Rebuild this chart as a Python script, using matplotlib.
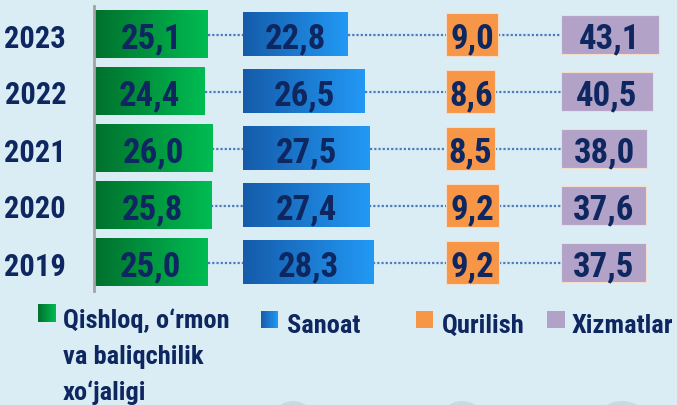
import matplotlib.pyplot as plt
import numpy as np
from matplotlib import font_manager
from matplotlib.colors import LinearSegmentedColormap
from matplotlib.lines import Line2D
from matplotlib.patches import Ellipse, Rectangle

years = ['2023', '2022', '2021', '2020', '2019']
agriculture = [25.1, 24.4, 26.0, 25.8, 25.0]
industry = [22.8, 26.5, 27.5, 27.4, 28.3]
construction = [9.0, 8.6, 8.5, 9.2, 9.2]
services = [43.1, 40.5, 38.0, 37.6, 37.5]
series_names = ['Qishloq, o‘rmon\nva baliqchilik\nxo‘jaligi', 'Sanoat',
                'Qurilish', 'Xizmatlar']

W, H = 677, 406
BG = '#DBEDF4'
NAVY = '#0E2760'

# pick a narrow bold face if one is there
installed = {f.name for f in font_manager.fontManager.ttflist}
font = 'DejaVu Sans'
for cand in ['Liberation Sans Narrow', 'Roboto Condensed', 'Noto Sans Condensed',
             'Open Sans Condensed', 'DejaVu Sans Condensed']:
    if cand in installed:
        font = cand
        break
plt.rcParams['font.family'] = [font, 'DejaVu Sans']
plt.rcParams['font.weight'] = 'bold'
plt.rcParams['font.stretch'] = 'condensed'

green = LinearSegmentedColormap.from_list('g', ['#00702D', '#00BC52'])
blue = LinearSegmentedColormap.from_list('b', ['#155BAA', '#2299F5'])
grad = np.linspace(0, 1, 256).reshape(1, -1)

fig = plt.figure(figsize=(W / 100, H / 100), dpi=100, facecolor=BG)

# overlay in pixel units for legend and decorations
bg = fig.add_axes([0, 0, 1, 1], zorder=0)
bg.set_xlim(0, W)
bg.set_ylim(H, 0)
bg.axis('off')


def px_axes(x0, x1, y0, y1):
    return fig.add_axes([x0 / W, 1 - y1 / H, (x1 - x0) / W, (y1 - y0) / H], zorder=2)


# column layout: left edge px, right edge px, px per unit
cols = [
    (94, 240, 4.54, agriculture, 0.83, green, None),
    (243, 440, 4.60, industry, 0.76, blue, None),
    (446, 555, 5.75, construction, 0.77, None, '#F79646'),
    (561, 677, 2.27, services, 0.69, None, '#B2A2C8'),
]
y = np.arange(len(years))
axes = []
for x0, x1, scale, vals, h, cmap, color in cols:
    ax = px_axes(x0, x1, 7, 292)
    ax.patch.set_visible(False)
    for yi, v in zip(y, vals):
        if cmap is not None:
            ax.imshow(grad, cmap=cmap, aspect='auto', extent=(0, v, yi + h / 2, yi - h / 2),
                      interpolation='bilinear', zorder=2)
        else:
            ax.barh(yi, v, height=h, color=color, edgecolor='#F3DCCB', linewidth=0.8, zorder=2)
        ax.text(v / 2, yi, f'{v:.1f}'.replace('.', ','), ha='center', va='center_baseline',
                fontsize=25, color=NAVY, zorder=3)
    ax.set_xlim(0, (x1 - x0) / scale)
    ax.set_ylim(len(years) - 0.5, -0.5)
    for s in ax.spines.values():
        s.set_visible(False)
    ax.set_xticks([])
    ax.set_yticks([])
    axes.append(ax)

# year labels and grey axis line on the first column
ax0 = axes[0]
ax0.spines['left'].set_visible(True)
ax0.spines['left'].set_color('#A3A3A3')
ax0.spines['left'].set_linewidth(2)
ax0.set_yticks(y)
ax0.set_yticklabels(years, fontsize=22, color=NAVY)
ax0.tick_params(axis='y', length=0, pad=20)

# dotted connectors between columns, bar end -> next column start
to_fig = fig.transFigure.inverted()
all_vals = [agriculture, industry, construction, services]
for i in range(3):
    for yi, v in zip(y, all_vals[i]):
        p0 = to_fig.transform(axes[i].transData.transform((v, yi)))
        p1 = to_fig.transform(axes[i + 1].transData.transform((0, yi)))
        fig.add_artist(Line2D([p0[0], p1[0]], [p0[1], p1[1]], transform=fig.transFigure,
                              color='#4A7DBD', linewidth=1.6, linestyle=(0, (1, 0.9)),
                              zorder=1))

# faint round shapes peeking at the bottom edge
for cx, rw in [(293, 44), (462, 46), (622, 54)]:
    bg.add_patch(Ellipse((cx, H + 18), rw, 44, facecolor='#C3CED3', edgecolor='none', alpha=0.6))

# legend
bg.imshow(grad, cmap=green, aspect='auto', extent=(38, 56, 323, 305), interpolation='bilinear')
bg.imshow(grad, cmap=blue, aspect='auto', extent=(261, 278, 329, 312), interpolation='bilinear')
bg.add_patch(Rectangle((416, 312), 17, 17, facecolor='#F79646', edgecolor='none'))
bg.add_patch(Rectangle((547, 312), 18, 17, facecolor='#B2A2C8', edgecolor='none'))
for k, line in enumerate(series_names[0].split('\n')):
    bg.text(63, 328 + 36 * k, line, ha='left', va='baseline', fontsize=19, color=NAVY)
bg.text(287, 333, series_names[1], ha='left', va='baseline', fontsize=19, color=NAVY)
bg.text(442, 333, series_names[2], ha='left', va='baseline', fontsize=19, color=NAVY)
bg.text(572, 333, series_names[3], ha='left', va='baseline', fontsize=19, color=NAVY)
bg.set_xlim(0, W)
bg.set_ylim(H, 0)

fig.savefig('out.png', dpi=100, facecolor=BG)
